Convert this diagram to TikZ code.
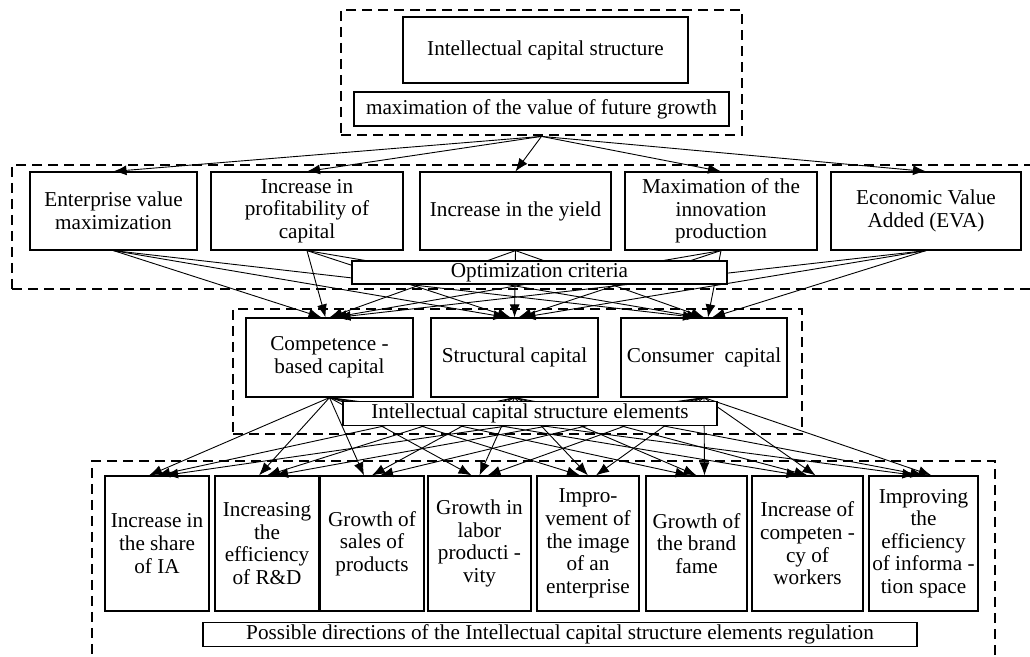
\documentclass[tikz,border=0pt]{standalone}
\usepackage{fontspec}
\setmainfont{Liberation Serif}
\usetikzlibrary{arrows.meta}

\begin{document}
\begin{tikzpicture}[x=0.5pt, y=-0.5pt,
    wh/.style 2 args={minimum width=#1*0.5pt, minimum height=#2*0.5pt},
    box/.style={draw, fill=white, line width=0.6pt, align=center, inner sep=1pt,
        font=\fontsize{10.6}{11.3}\selectfont},
    frame/.style={draw, line width=1.4pt, dash pattern=on 5pt off 3pt},
    link/.style={-{Latex[length=6.5pt,width=5pt]}, line width=0.45pt}]

    \useasboundingbox (0,0) rectangle (1030,657);
    \clip (0,0) rectangle (1030,657);

    % Dashed frames of the four levels
    \node[frame, wh={401}{125}] (topframe) at (541.5,72.5) {};
    \node[frame, wh={1033}{124}] (critframe) at (528.5,227) {};
    \node[frame, wh={569}{125}] (elemframe) at (517.5,371.5) {};
    \node[frame, wh={903}{219}] (dirframe) at (543.5,570.5) {};

    % Top level
    \node[box, wh={285}{66}] (icstr) at (545.5,50) {Intellectual capital structure};
    \node[box, wh={375}{34}] (future) at (541.5,109) {maximation of the value of future growth};

    % Criteria level
    \node[box, wh={167}{78}] (ev) at (113.5,211) {Enterprise value\\maximization};
    \node[box, wh={192}{78}] (pc) at (307,211) {Increase in\\profitability of\\capital};
    \node[box, wh={191}{78}] (iy) at (515.5,211) {Increase in the yield};
    \node[box, wh={192}{78}] (mi) at (721,211) {Maximation of the\\innovation\\production};
    \node[box, wh={190}{78}] (eva) at (926,211) {Economic Value\\Added (EVA)};

    % Elements level
    \node[box, wh={167}{79}] (cb) at (329.5,357.5) {Competence -\\based capital};
    \node[box, wh={167}{79}] (sc) at (514.5,357.5) {Structural capital};
    \node[box, wh={166}{79}] (cc) at (704,357.5) {Consumer~ capital};

    % Directions level
    \node[box, wh={104}{135}] (d1) at (157,543.5) {Increase in\\the share\\of IA};
    \node[box, wh={104}{135}] (d2) at (267,543.5) {Increasing\\the\\efficiency\\of R\&D};
    \node[box, wh={104}{135}] (d3) at (372,543.5) {Growth of\\sales of\\products};
    \node[box, wh={103}{135}] (d4) at (479.5,543.5) {Growth in\\labor\\producti -\\vity};
    \node[box, wh={102}{135}] (d5) at (588,543.5) {Impro-\\vement of\\the image\\of an\\enterprise};
    \node[box, wh={101}{135}] (d6) at (696.5,543.5) {Growth of\\the brand\\fame};
    \node[box, wh={111}{135}] (d7) at (807.5,543.5) {Increase of\\competen -\\cy of\\workers};
    \node[box, wh={109}{135}] (d8) at (923.5,543.5) {Improving\\the\\efficiency\\of informa -\\tion space};

    % Arrows from the top level to the criteria
    \foreach \t in {ev, pc, iy, mi, eva}
        \draw[link] (topframe.south) -- (\t.north);

    % Arrows from every criterion to every element
    \foreach \s [count=\i] in {ev, pc, iy, mi, eva}
        \foreach \t in {cb, sc, cc}
            \draw[link] (\s.south) -- ([xshift={(\i-3)*2pt}]\t.north);

    % Arrows from every element to every direction
    \foreach \s [count=\i] in {cb, sc, cc}
        \foreach \t in {d1, d2, d3, d4, d5, d6, d7, d8}
            \draw[link] (\s.south) -- ([xshift={(\i-2)*4pt}]\t.north);

    % Level captions, on top of the arrows
    \node[box, wh={375}{23}] (optcrit) at (539.5,272.5) {Optimization criteria};
    \node[box, wh={374}{21}] (elems) at (530,413.5) {Intellectual capital structure elements};
    \node[box, wh={714}{23}] (regul) at (560,634.5) {Possible directions of the Intellectual capital structure elements regulation};

\end{tikzpicture}
\end{document}
